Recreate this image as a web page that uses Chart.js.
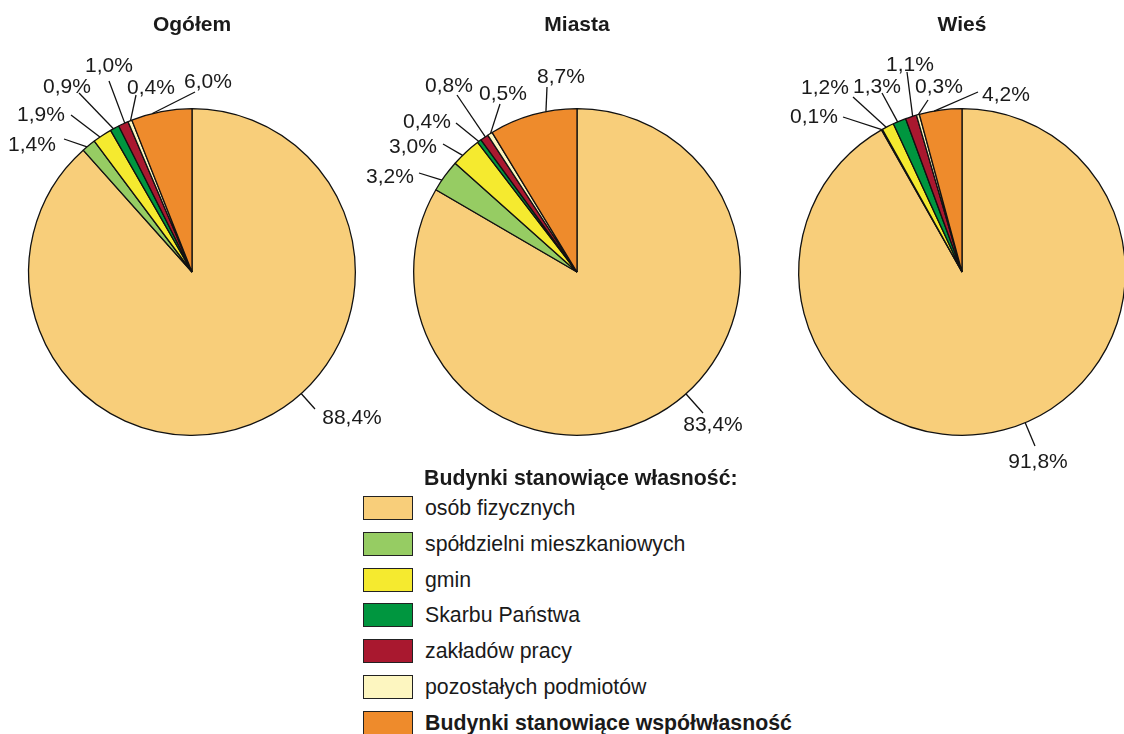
<!DOCTYPE html>
<html>
<head>
<meta charset="utf-8">
<script src="https://cdn.jsdelivr.net/npm/chart.js@4/dist/chart.umd.min.js"></script>
<style>
  body { margin: 0; width: 1124px; height: 734px; overflow: hidden; background: #fff; position: relative;
         font-family: "Liberation Sans", Arial, sans-serif; color: #1a1a1a; }
  .pie { position: absolute; top: 0; width: 460px; height: 480px; }
  #legend { position: absolute; left: 363px; top: 0; }
  #legend .head { position: absolute; left: 61px; top: 466px; font-weight: bold; font-size: 21.3px; line-height: 24px; white-space: nowrap; }
  #legend .row { position: absolute; left: 0; display: flex; align-items: center; height: 24px; white-space: nowrap; }
  #legend .sw { width: 50px; height: 24px; box-sizing: border-box; border: 1.5px solid #222; }
  #legend .lb { margin-left: 12px; font-size: 21.3px; line-height: 24px; }
</style>
</head>
<body>
<canvas id="c0" class="pie" width="460" height="480"></canvas>
<canvas id="c1" class="pie" width="460" height="480"></canvas>
<canvas id="c2" class="pie" width="460" height="480"></canvas>
<div id="legend"></div>

<script>
// Struktura własności budynków mieszkalnych (%)
const categories = ['osób fizycznych', 'spółdzielni mieszkaniowych', 'gmin', 'Skarbu Państwa',
  'zakładów pracy', 'pozostałych podmiotów', 'Budynki stanowiące współwłasność'];
const titles = ['Ogółem', 'Miasta', 'Wieś'];
const ogolem = [88.4, 1.4, 1.9, 0.9, 1.0, 0.4, 6.0];
const miasta = [83.4, 3.2, 3.0, 0.4, 0.8, 0.5, 8.7];
const wies = [91.8, 0.1, 1.2, 1.3, 1.1, 0.3, 4.2];
const legendTitle = 'Budynki stanowiące własność:';

const colors = ['#F8CE7A', '#96CC63', '#F5EA2F', '#00963F', '#A9182F', '#FDF6C0', '#EE8B2C'];
const FONT = '"Liberation Sans", Arial, sans-serif';

// where the callout lines end and where their text sits, offsets from the pie centre
const callouts = [
  { ends: [[123, 137], [-128, -133], [-121, -157], [-113, -179], [-83, -191], [-56, -177], [3, -180]],
    texts: [[160, 144], [-160, -129], [-151, -159], [-125, -187], [-83, -208], [-41, -186], [16, -192]] },
  { ends: [[126, 141], [-158, -99], [-134, -128], [-121, -149], [-120, -177], [-77, -168], [-30, -185]],
    texts: [[136, 151], [-187, -97], [-164, -127], [-150, -152], [-128, -188], [-74, -180], [-16, -197]] },
  { ends: [[73, 174], [-119, -155], [-109, -175], [-80, -179], [-55, -200], [-34, -172], [16, -180]],
    texts: [[76, 188], [-148, -157], [-137, -186], [-85, -187], [-52, -209], [-23, -187], [44, -179]] }
];
const centers = [192, 577, 962];

const fmt = v => v.toFixed(1).replace('.', ',') + '%';

const calloutPlugin = {
  id: 'callouts',
  afterDraw(chart, args, opts) {
    const ctx = chart.ctx;
    const arcs = chart.getDatasetMeta(0).data;
    const values = chart.data.datasets[0].data;
    ctx.save();
    // title
    ctx.fillStyle = '#1a1a1a';
    ctx.font = 'bold 21px ' + FONT;
    ctx.textAlign = 'center';
    ctx.textBaseline = 'alphabetic';
    ctx.fillText(opts.title, arcs[0].x, 31);

    ctx.font = '21px ' + FONT;
    ctx.strokeStyle = '#111';
    ctx.lineWidth = 1.3;
    arcs.forEach((arc, i) => {
      const { x, y, startAngle, endAngle, outerRadius } = arc.getProps(['x', 'y', 'startAngle', 'endAngle', 'outerRadius'], true);
      const [ex, ey] = opts.ends[i];
      const [tx, ty] = opts.texts[i];
      let a = Math.atan2(ey, ex);
      if (a < -Math.PI / 2) a += Math.PI * 2;
      const span = endAngle - startAngle;
      a = Math.min(Math.max(a, startAngle + span * 0.35), endAngle - span * 0.35);
      ctx.beginPath();
      ctx.moveTo(x + Math.cos(a) * outerRadius, y + Math.sin(a) * outerRadius);
      ctx.lineTo(x + ex, y + ey);
      ctx.stroke();
      ctx.fillText(fmt(values[i]), x + tx, y + ty + 21 * 0.358);
    });
    ctx.restore();
  }
};

[ogolem, miasta, wies].forEach((vals, k) => {
  const cv = document.getElementById('c' + k);
  cv.style.left = (centers[k] - 230) + 'px';
  new Chart(cv, {
    type: 'pie',
    data: {
      labels: categories,
      datasets: [{
        data: vals,
        backgroundColor: colors,
        borderColor: '#111',
        borderWidth: 1.3,
        hoverOffset: 0
      }]
    },
    options: {
      responsive: false,
      animation: false,
      events: [],
      layout: { padding: { left: 66, right: 66, top: 108, bottom: 44 } },
      plugins: {
        legend: { display: false },
        tooltip: { enabled: false },
        callouts: { title: titles[k], ends: callouts[k].ends, texts: callouts[k].texts }
      }
    },
    plugins: [calloutPlugin]
  });
});

// legend
const lg = document.getElementById('legend');
const head = document.createElement('div');
head.className = 'head';
head.textContent = legendTitle;
lg.appendChild(head);
categories.forEach((name, i) => {
  const row = document.createElement('div');
  row.className = 'row';
  row.style.top = (496 + i * 35.8) + 'px';
  const sw = document.createElement('div');
  sw.className = 'sw';
  sw.style.background = colors[i];
  const lb = document.createElement('div');
  lb.className = 'lb';
  lb.textContent = name;
  if (i === categories.length - 1) lb.style.fontWeight = 'bold';
  row.appendChild(sw);
  row.appendChild(lb);
  lg.appendChild(row);
});
</script>
</body>
</html>
